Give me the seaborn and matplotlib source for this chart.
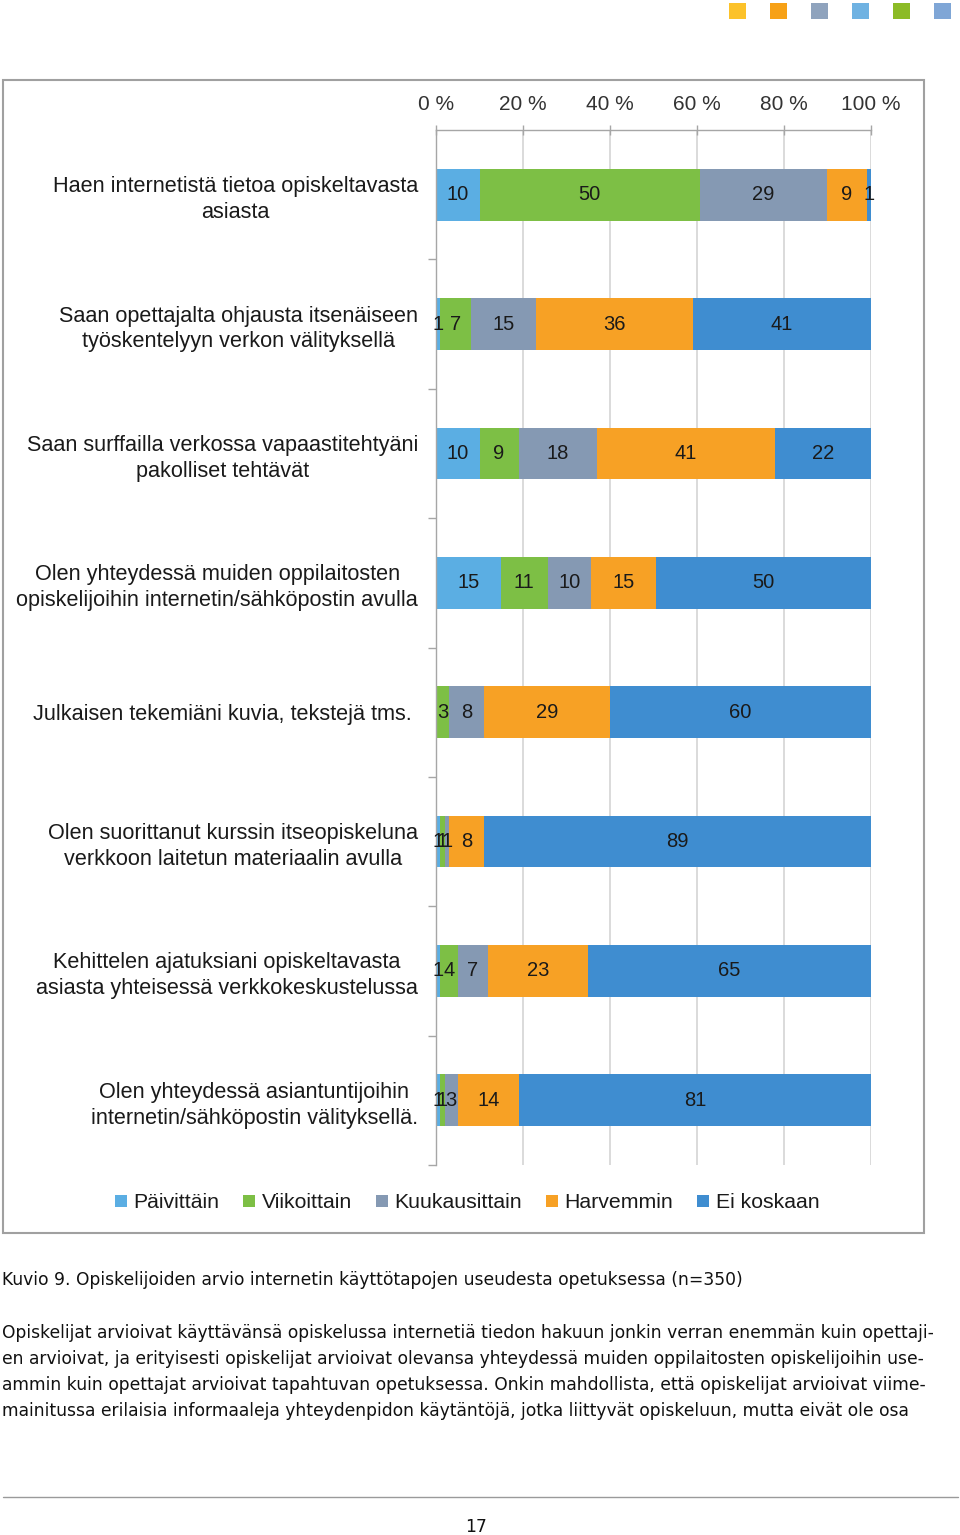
import numpy as np
import pandas as pd
import matplotlib
matplotlib.use("Agg")
import matplotlib.pyplot as plt
import seaborn as sns
from matplotlib.patches import Patch, Rectangle
from matplotlib.lines import Line2D

# ---------------- data ----------------
categories = [
    "Haen internetistä tietoa opiskeltavasta\nasiasta",
    "Saan opettajalta ohjausta itsenäiseen\ntyöskentelyyn verkon välityksellä",
    "Saan surffailla verkossa vapaastitehtyäni\npakolliset tehtävät",
    "Olen yhteydessä muiden oppilaitosten\nopiskelijoihin internetin/sähköpostin avulla",
    "Julkaisen tekemiäni kuvia, tekstejä tms. ",
    "Olen suorittanut kurssin itseopiskeluna\nverkkoon laitetun materiaalin avulla",
    "Kehittelen ajatuksiani opiskeltavasta\nasiasta yhteisessä verkkokeskustelussa",
    "Olen yhteydessä asiantuntijoihin\ninternetin/sähköpostin välityksellä.",
]
series_names = ["Päivittäin", "Viikoittain", "Kuukausittain", "Harvemmin", "Ei koskaan"]
paivittain = [10, 1, 10, 15, 0, 1, 1, 1]
viikoittain = [50, 7, 9, 11, 3, 1, 4, 1]
kuukausittain = [29, 15, 18, 10, 8, 1, 7, 3]
harvemmin = [9, 36, 41, 15, 29, 8, 23, 14]
ei_koskaan = [1, 41, 22, 50, 60, 89, 65, 81]
tick_values = [0, 20, 40, 60, 80, 100]
tick_labels = ["0 %", "20 %", "40 %", "60 %", "80 %", "100 %"]

colors = ["#5BAEE3", "#7DBF45", "#8599B3", "#F7A125", "#3F8DD0"]
deco_colors = ["#FCC22A", "#F7A116", "#8FA3BD", "#6FB2E2", "#8CBB26", "#7FA6D6"]

caption = "Kuvio 9. Opiskelijoiden arvio internetin käyttötapojen useudesta opetuksessa (n=350)"
paragraph = [
    "Opiskelijat arvioivat käyttävänsä opiskelussa internetiä tiedon hakuun jonkin verran enemmän kuin opettaji-",
    "en arvioivat, ja erityisesti opiskelijat arvioivat olevansa yhteydessä muiden oppilaitosten opiskelijoihin use-",
    "ammin kuin opettajat arvioivat tapahtuvan opetuksessa. Onkin mahdollista, että opiskelijat arvioivat viime-",
    "mainitussa erilaisia informaaleja yhteydenpidon käytäntöjä, jotka liittyvät opiskeluun, mutta eivät ole osa",
]
page_number = "17"

# ---------------- setup ----------------
sns.set_theme(style="white")
plt.rcParams["font.family"] = ["Liberation Sans", "DejaVu Sans"]

W, H = 960, 1535
fig = plt.figure(figsize=(W / 100, H / 100), dpi=100)
fx = lambda x: x / W
fy = lambda y: 1 - y / H

ax = fig.add_axes([fx(436), fy(1165), fx(871) - fx(436), fy(130) - fy(1165)])

vals = np.array([paivittain, viikoittain, kuukausittain, harvemmin, ei_koskaan], dtype=float)
shares = vals / vals.sum(axis=0) * 100.0
cum = np.cumsum(shares, axis=0)

# gridlines (behind)
for t in tick_values[1:]:
    ax.axvline(t, color="#D4D4D4", lw=1.2, zorder=0)

# stacked bars: draw cumulative totals back to front
for j in range(len(series_names) - 1, -1, -1):
    df = pd.DataFrame({"cat": categories, "cum": cum[j]})
    sns.barplot(data=df, x="cum", y="cat", orient="h", color=colors[j],
                width=0.4, saturation=1, ax=ax, zorder=2, linewidth=0)

# value labels
for j in range(len(series_names)):
    for i in range(len(categories)):
        v = vals[j, i]
        if v <= 0:
            continue
        xc = cum[j, i] - shares[j, i] / 2
        ax.text(xc, i, f"{int(v)}", ha="center", va="center", fontsize=14.5,
                color="#1A1A1A", zorder=5)

ax.set_xlim(0, 100)
ax.set_ylim(len(categories) - 0.5, -0.5)
ax.set_xlabel("")
ax.set_ylabel("")
ax.xaxis.tick_top()
ax.set_xticks(tick_values)
ax.set_xticklabels(tick_labels, fontsize=15, color="#333333")
ax.tick_params(axis="x", which="major", direction="inout", length=7, width=1,
               color="#A6A6A6", pad=8)
ax.set_yticks(range(len(categories)))
ax.set_yticklabels(categories, fontsize=15.6, color="#1A1A1A")
for lab in ax.get_yticklabels():
    lab.set_multialignment("center")
    lab.set_linespacing(1.3)
ax.set_yticks(np.arange(0.5, len(categories), 1.0), minor=True)
ax.tick_params(axis="y", which="major", length=0, pad=13)
ax.tick_params(axis="y", which="minor", direction="out", length=6, width=1,
               color="#A6A6A6", left=True)
for s in ["right", "bottom"]:
    ax.spines[s].set_visible(False)
for s in ["left", "top"]:
    ax.spines[s].set_color("#A6A6A6")
    ax.spines[s].set_linewidth(1)
ax.set_facecolor("none")

# legend
handles = [Patch(facecolor=c, edgecolor="none", label=n) for c, n in zip(colors, series_names)]
fig.legend(handles=handles, loc="center", bbox_to_anchor=(fx(467), fy(1203)), ncol=5,
           frameon=False, fontsize=15.3, handlelength=0.55, handleheight=0.55,
           handletextpad=0.3, columnspacing=1.15, labelcolor="#1A1A1A")

# chart border
fig.patches.append(Rectangle((fx(3), fy(1233)), fx(924) - fx(3), fy(80) - fy(1233),
                             transform=fig.transFigure, fill=False,
                             edgecolor="#A0A0A0", lw=1.5))

# decorative squares at top
for k, c in enumerate(deco_colors):
    x0 = 729 + k * 41
    fig.patches.append(Rectangle((fx(x0), fy(19)), fx(17), 16 / H,
                                 transform=fig.transFigure, color=c, lw=0))

# caption & paragraph (fit size to caption width)
fig.canvas.draw()
renderer = fig.canvas.get_renderer()
base = 12.0
tmp = fig.text(0, 0, caption, fontsize=base, family="DejaVu Sans")
wpx = tmp.get_window_extent(renderer).width
tmp.remove()
size = base * 738.0 / wpx

fig.text(fx(2), fy(1285), caption, fontsize=size, family="DejaVu Sans",
         va="baseline", ha="left", color="#111111")
for k, line in enumerate(paragraph):
    fig.text(fx(2), fy(1338 + 26 * k), line, fontsize=size, family="DejaVu Sans",
             va="baseline", ha="left", color="#111111")

fig.add_artist(Line2D([fx(3), fx(958)], [fy(1497), fy(1497)], transform=fig.transFigure,
                      color="#9A9A9A", lw=1))
fig.text(fx(476), fy(1527), page_number, fontsize=size, family="DejaVu Sans",
         ha="center", va="center", color="#111111")

fig.savefig("out.png", dpi=100)
